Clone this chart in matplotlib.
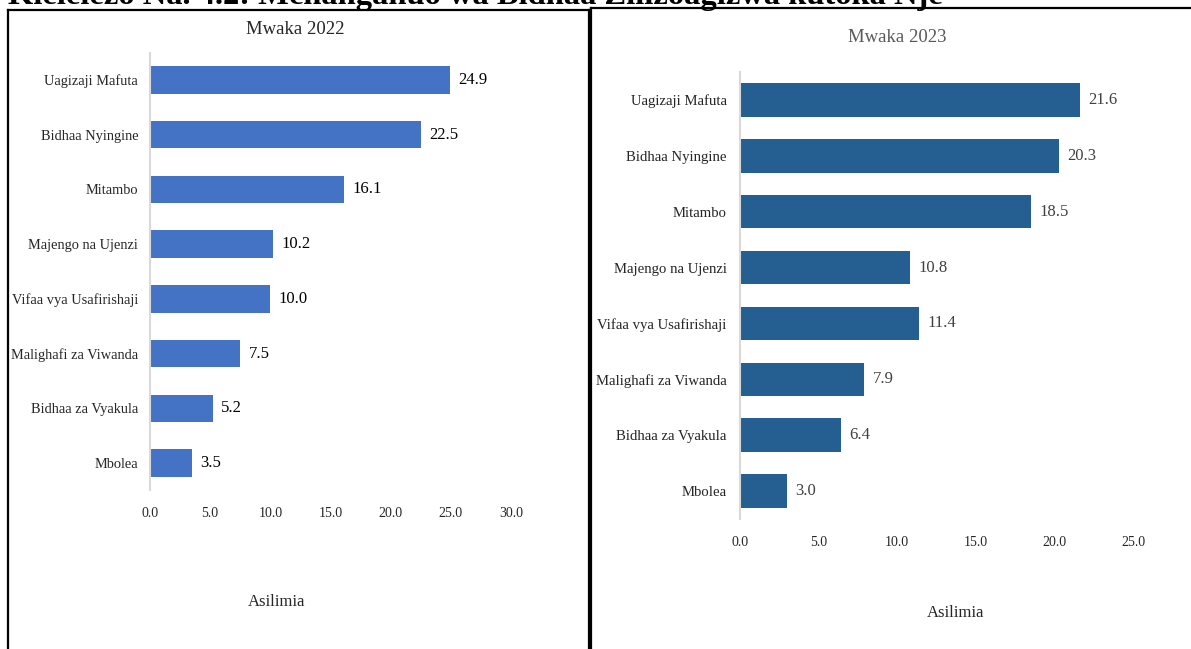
import matplotlib
matplotlib.use("Agg")
import matplotlib.pyplot as plt
from matplotlib.lines import Line2D

plt.rcParams['font.family'] = ['Liberation Serif', 'DejaVu Serif']

# data
categories = ["Uagizaji Mafuta", "Bidhaa Nyingine", "Mitambo", "Majengo na Ujenzi",
              "Vifaa vya Usafirishaji", "Malighafi za Viwanda", "Bidhaa za Vyakula", "Mbolea"]
values_2022 = [24.9, 22.5, 16.1, 10.2, 10.0, 7.5, 5.2, 3.5]
values_2023 = [21.6, 20.3, 18.5, 10.8, 11.4, 7.9, 6.4, 3.0]
ticks_2022 = [0, 5, 10, 15, 20, 25, 30]
ticks_2023 = [0, 5, 10, 15, 20, 25]

W, H = 1191, 649
fig = plt.figure(figsize=(W / 100, H / 100), dpi=100)


def px(x0, y0, x1, y1):
    # pixel box (top-left origin) -> figure fraction rect
    return [x0 / W, 1 - y1 / H, (x1 - x0) / W, (y1 - y0) / H]


def panel(ax, vals, ticks, color, bar_h, label_color, cat_size, pad_lbl):
    pos = list(range(len(categories)))
    ax.barh(pos, vals, height=bar_h, color=color)
    ax.set_ylim(len(categories) - 0.5, -0.5)
    ax.set_xlim(ticks[0], ticks[-1])
    ax.set_yticks(pos)
    ax.set_yticklabels(categories, fontsize=cat_size, color='#262626')
    ax.set_xticks(ticks)
    ax.set_xticklabels(["%.1f" % t for t in ticks], fontsize=10, color='#262626')
    ax.tick_params(axis='both', length=0)
    ax.tick_params(axis='y', pad=pad_lbl)
    ax.tick_params(axis='x', pad=12)
    for s in ['top', 'right', 'bottom']:
        ax.spines[s].set_visible(False)
    ax.spines['left'].set_color('#d9d9d9')
    ax.spines['left'].set_linewidth(1.5)
    ax.set_facecolor('none')
    for p, v in zip(pos, vals):
        ax.annotate("%.1f" % v, (v, p), xytext=(6, 0), textcoords='offset points',
                    va='center', ha='left', fontsize=12, color=label_color)


ax1 = fig.add_axes(px(150, 52.6, 511, 490.4))
panel(ax1, values_2022, ticks_2022, '#4472c4', 0.5, 'black', 10.4, 8.5)

ax2 = fig.add_axes(px(740, 72, 1133, 519))
panel(ax2, values_2023, ticks_2023, '#255e91', 0.6, '#404040', 10.6, 9.5)

# panel titles and axis labels
fig.text(295 / W, 1 - 30 / H, "Mwaka 2022", ha='center', va='center', fontsize=13.5, color='#262626')
fig.text(897 / W, 1 - 38 / H, "Mwaka 2023", ha='center', va='center', fontsize=13.5, color='#595959')
fig.text(277 / W, 1 - 602 / H, "Asilimia", ha='center', va='center', fontsize=12, color='#262626')
fig.text(956 / W, 1 - 613 / H, "Asilimia", ha='center', va='center', fontsize=12, color='#262626')

# cut-off figure caption at top
fig.text(8 / W, 1 - 4 / H, "Kielelezo Na. 4.2: Mchanganuo wa Bidhaa Zilizoagizwa kutoka Nje",
         ha='left', va='baseline', fontsize=23.4, fontweight='bold', color='black')

# panel frames
frame = dict(color='black', linewidth=1.6, transform=fig.transFigure)
fig.add_artist(Line2D([8 / W, 589 / W], [1 - 10 / H, 1 - 10 / H], **frame))
fig.add_artist(Line2D([8 / W, 8 / W], [1 - 10 / H, 0], **frame))
fig.add_artist(Line2D([589 / W, 589 / W], [1 - 10 / H, 0], **frame))
fig.add_artist(Line2D([591 / W, 1 - 0.5 / W], [1 - 8 / H, 1 - 8 / H], **frame))
fig.add_artist(Line2D([591 / W, 591 / W], [1 - 8 / H, 0], **frame))

fig.savefig("out.png", dpi=100)
